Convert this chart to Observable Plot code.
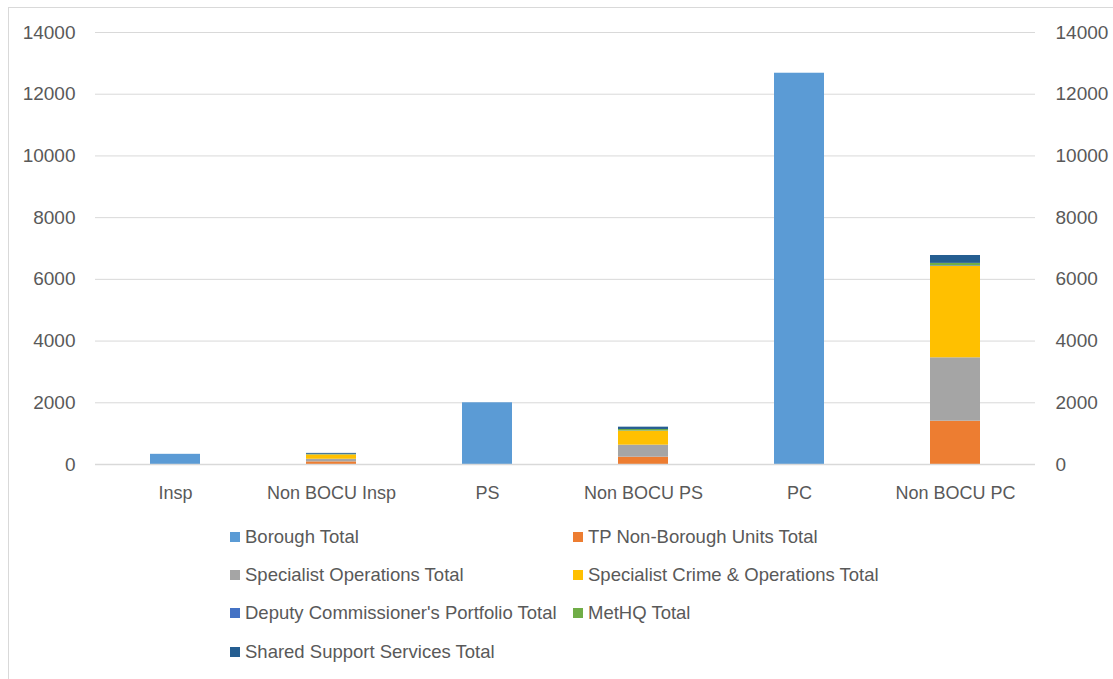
<!DOCTYPE html>
<html>
<head>
<meta charset="utf-8">
<script src="https://cdn.jsdelivr.net/npm/d3@7"></script>
<script src="https://cdn.jsdelivr.net/npm/@observablehq/plot@0.6"></script>
<style>
  html, body { margin: 0; padding: 0; background: #fff; }
  body { width: 1113px; height: 679px; position: relative; overflow: hidden; font-family: "Liberation Sans", Arial, sans-serif; }
  #frame { position: absolute; left: 8px; top: 7px; width: 1110px; height: 680px; border: 1px solid #d9d9d9; box-sizing: border-box; }
  #chart { position: absolute; left: 0; top: 0; }
  #legend { position: absolute; left: 230px; top: 527px; font-size: 18.5px; color: #595959; }
  .item { position: absolute; white-space: nowrap; display: flex; align-items: center; height: 20px; }
  .sw { width: 10px; height: 10px; margin-right: 5px; display: inline-block; }
</style>
</head>
<body>
<div id="frame"></div>
<div id="chart"></div>
<div id="legend"></div>
<script>
const categories = ["Insp", "Non BOCU Insp", "PS", "Non BOCU PS", "PC", "Non BOCU PC"];
const seriesNames = [
  "Borough Total",
  "TP Non-Borough Units Total",
  "Specialist Operations Total",
  "Specialist Crime & Operations Total",
  "Deputy Commissioner's Portfolio Total",
  "MetHQ Total",
  "Shared Support Services Total"
];
const seriesColors = ["#5b9bd5", "#ed7d31", "#a5a5a5", "#ffc000", "#4472c4", "#70ad47", "#255e91"];

const boroughTotal       = [330, 0, 2000, 0, 12680, 0];
const tpNonBorough       = [0, 85, 0, 237, 0, 1403];
const specialistOps      = [0, 85, 0, 390, 0, 2055];
const specialistCrimeOps = [0, 140, 0, 453, 0, 2960];
const deputyCommissioner = [0, 5, 0, 5, 0, 20];
const metHQ              = [0, 15, 0, 50, 0, 80];
const sharedSupport      = [0, 30, 0, 75, 0, 255];

const yTicks = [0, 2000, 4000, 6000, 8000, 10000, 12000, 14000];

const seriesValues = [boroughTotal, tpNonBorough, specialistOps, specialistCrimeOps, deputyCommissioner, metHQ, sharedSupport];
const data = [];
seriesNames.forEach((s, i) => {
  categories.forEach((c, j) => {
    data.push({category: c, series: s, value: seriesValues[i][j]});
  });
});

const chart = Plot.plot({
  width: 1113,
  height: 512,
  marginLeft: 95,
  marginRight: 78,
  marginTop: 32,
  marginBottom: 48,
  style: {fontFamily: "'Liberation Sans', Arial, sans-serif", fontSize: "18px", color: "#595959", background: "transparent"},
  x: {domain: categories, paddingInner: 0.68, paddingOuter: 0.34, label: null},
  y: {domain: [0, 14000], label: null},
  color: {domain: seriesNames, range: seriesColors},
  marks: [
    Plot.gridY(yTicks, {stroke: "#d9d9d9", strokeOpacity: 1}),
    Plot.barY(data, Plot.stackY({x: "category", y: "value", fill: "series", order: seriesNames})),
    Plot.ruleY([0], {stroke: "#d9d9d9", strokeWidth: 1.5}),
    Plot.axisY(yTicks, {anchor: "left", tickSize: 0, tickPadding: 20, label: null, tickFormat: d => String(d), fill: "#595959", fontSize: 19}),
    Plot.axisY(yTicks, {anchor: "right", tickSize: 0, tickPadding: 20, label: null, tickFormat: d => String(d), fill: "#595959", fontSize: 19}),
    Plot.axisX({tickSize: 0, tickPadding: 22, label: null, fill: "#595959", fontSize: 18})
  ]
});
document.getElementById("chart").appendChild(chart);

const legend = document.getElementById("legend");
const positions = [[0,0],[343,0],[0,38],[343,38],[0,76],[343,76],[0,115]];
seriesNames.forEach((s, i) => {
  const d = document.createElement("div");
  d.className = "item";
  d.style.left = positions[i][0] + "px";
  d.style.top = positions[i][1] + "px";
  d.innerHTML = `<span class="sw" style="background:${seriesColors[i]}"></span>`;
  d.appendChild(document.createTextNode(s));
  legend.appendChild(d);
});
</script>
</body>
</html>
